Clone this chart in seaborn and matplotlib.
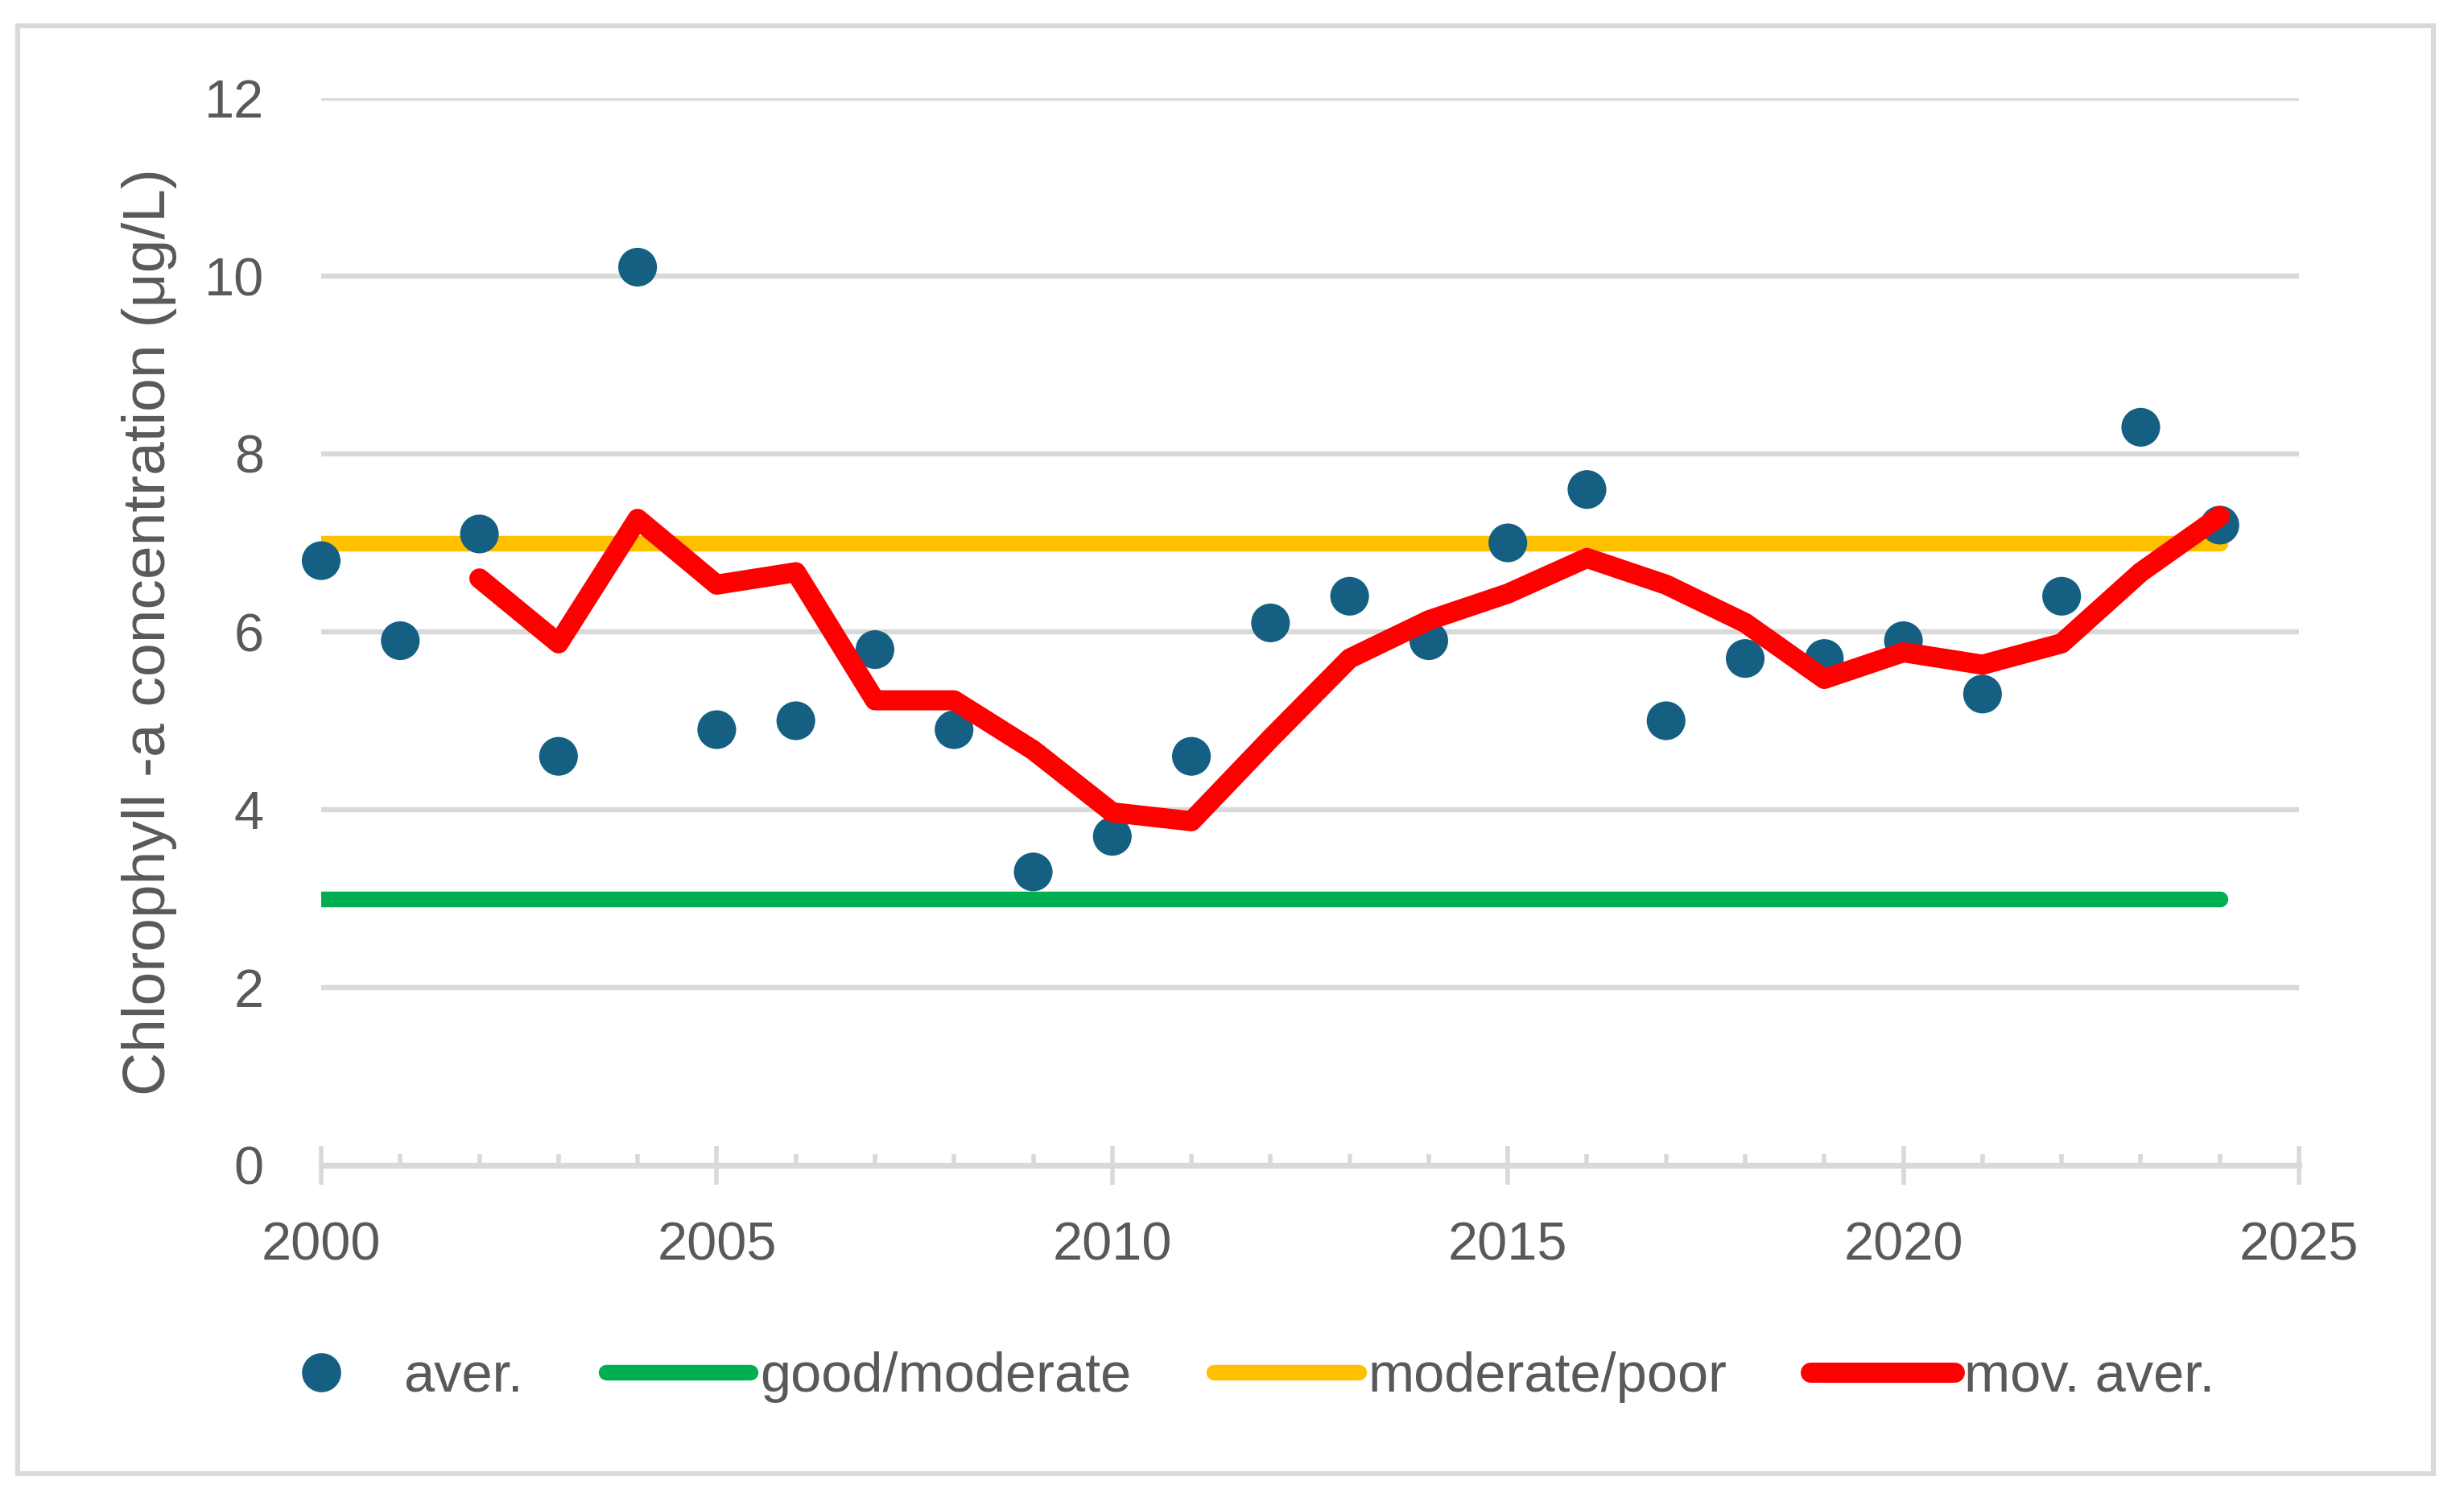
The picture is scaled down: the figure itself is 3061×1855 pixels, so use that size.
import matplotlib
matplotlib.use("Agg")
import matplotlib.pyplot as plt
from matplotlib.lines import Line2D
from matplotlib.patches import Rectangle
import seaborn as sns
import pandas as pd

years = list(range(2000, 2025))
aver = [6.8, 5.9, 7.1, 4.6, 10.1, 4.9, 5.0, 5.8, 4.9, 3.3, 3.7, 4.6, 6.1,
        6.4, 5.9, 7.0, 7.6, 5.0, 5.7, 5.7, 5.9, 5.3, 6.4, 8.3, 7.2]
mov_years = list(range(2002, 2025))
mov_aver = [6.60, 5.87, 7.27, 6.53, 6.67, 5.23, 5.23, 4.67, 3.97, 3.87, 4.80,
            5.70, 6.13, 6.43, 6.83, 6.53, 6.10, 5.47, 5.77, 5.63, 5.87, 6.67, 7.30]
good_moderate = [3.0] * len(years)
moderate_poor = [7.0] * len(years)

y_label = "Chlorophyll -a concentration (μg/L)"
legend_labels = ["aver.", "good/moderate", "moderate/poor", "mov. aver."]

C_DOT = "#156082"
C_GREEN = "#00B050"
C_YELLOW = "#FFC000"
C_RED = "#FF0000"
C_GRID = "#D9D9D9"
C_TEXT = "#595959"

sns.set_theme(style="white")
plt.rcParams["font.family"] = ["Liberation Sans", "DejaVu Sans"]
plt.rcParams["text.color"] = C_TEXT

df = pd.DataFrame({"year": years, "aver": aver, "gm": good_moderate, "mp": moderate_poor})
dfm = pd.DataFrame({"year": mov_years, "mov": mov_aver})

fig = plt.figure(figsize=(15.305, 9.275), dpi=200)
ax = fig.add_axes([399/3061, 1-1448/1855, (2856-399)/3061, (1448-122)/1855])

sns.lineplot(data=df, x="year", y="gm", ax=ax, color=C_GREEN, linewidth=7,
             solid_capstyle="round", zorder=3)
sns.lineplot(data=df, x="year", y="mp", ax=ax, color=C_YELLOW, linewidth=7,
             solid_capstyle="round", zorder=3)
sns.scatterplot(data=df, x="year", y="aver", ax=ax, color=C_DOT, s=300,
                edgecolor="none", zorder=4, clip_on=False)
sns.lineplot(data=dfm, x="year", y="mov", ax=ax, color=C_RED, linewidth=9,
             solid_capstyle="round", solid_joinstyle="round", zorder=5)

ax.set_xlim(2000, 2025)
ax.set_ylim(0, 12)
ax.set_xticks(range(2000, 2026, 5))
ax.set_xticks(range(2000, 2026, 1), minor=True)
ax.set_yticks(range(0, 13, 2))
ax.set_xlabel("")
ax.set_ylabel(y_label, fontsize=27, color=C_TEXT)
ax.yaxis.set_label_coords(-0.073, 0.5)

for s in ["top", "right", "left"]:
    ax.spines[s].set_visible(False)
ax.spines["bottom"].set_color(C_GRID)
ax.spines["bottom"].set_linewidth(2.5)
ax.spines["bottom"].set_zorder(2)

ax.grid(axis="y", color=C_GRID, linewidth=2.3, zorder=1)
ax.grid(axis="x", visible=False)
ax.set_axisbelow(True)

ax.tick_params(axis="x", which="major", direction="inout", length=17, width=2,
               color=C_GRID, labelsize=24, labelcolor=C_TEXT, pad=16.5, bottom=True)
ax.tick_params(axis="x", which="minor", direction="in", length=5, width=2,
               color=C_GRID, bottom=True)
ax.tick_params(axis="y", length=0, labelsize=24, labelcolor=C_TEXT, pad=25.6)

handles = [
    Line2D([], [], linestyle="none", marker="o", markersize=17.5, color=C_DOT, markeredgewidth=0),
    Line2D([], [], color=C_GREEN, linewidth=7, solid_capstyle="round"),
    Line2D([], [], color=C_YELLOW, linewidth=7, solid_capstyle="round"),
    Line2D([], [], color=C_RED, linewidth=9, solid_capstyle="round"),
]
fig.legend(handles, legend_labels, loc="center", bbox_to_anchor=(0.5, 1-1711/1855),
           ncol=4, frameon=False, fontsize=24.7, handlelength=2.62, handletextpad=0.17,
           columnspacing=1.5, labelcolor=C_TEXT)

fig.patches.append(Rectangle((22/3061, 1-1831/1855), (3023-22)/3061, (1831-32)/1855,
                             transform=fig.transFigure, fill=False,
                             edgecolor=C_GRID, linewidth=2.2))

fig.savefig("out.png", dpi=200, facecolor="white")
